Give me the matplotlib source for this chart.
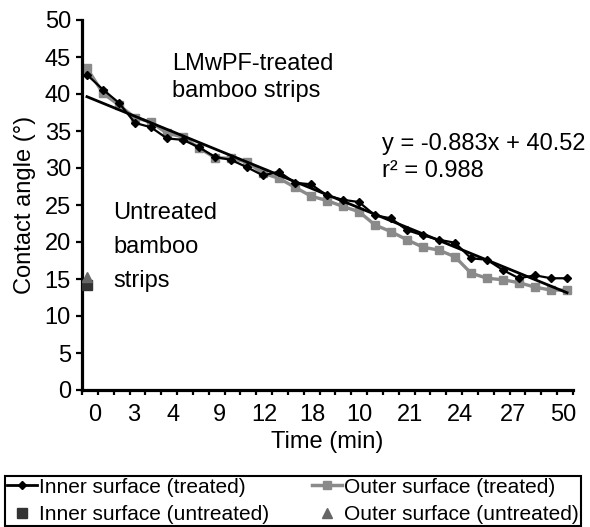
import matplotlib

matplotlib.use("Agg")

import matplotlib.pyplot as plt
import numpy as np
from matplotlib.lines import Line2D

# measurement index (category positions, Excel style 1..31)
points = np.arange(1, 32)

inner_treated = [
    42.6, 40.6, 38.8, 36.1, 35.5, 34.0, 33.8, 32.8, 31.5, 31.1,
    30.1, 29.0, 29.5, 28.0, 27.8, 26.3, 25.7, 25.4, 23.6, 23.2,
    21.6, 20.9, 20.3, 19.9, 17.8, 17.6, 16.2, 15.1, 15.5, 15.1, 15.1,
]
outer_treated = [
    43.5, 40.1, 38.5, 36.8, 36.2, 34.7, 34.2, 32.7, 31.4, 31.3,
    30.8, 29.3, 28.6, 27.4, 26.2, 25.6, 24.8, 24.1, 22.3, 21.4,
    20.3, 19.3, 18.9, 18.0, 15.8, 15.1, 14.9, 14.5, 13.9, 13.5, 13.5,
]
inner_untreated = 14.2
outer_untreated = 15.3

# linear fit printed on the chart
fit_slope = -0.883
fit_intercept = 40.52

# x tick labels as printed (positions between the category marks)
xlabel_pos = [1.5, 3.9, 6.4, 9.25, 12.1, 15.1, 18.0, 21.2, 24.3, 27.6, 30.75]
xlabel_txt = ["0", "3", "4", "9", "12", "18", "10", "21", "24", "27", "50"]

GREY = "#8a8a8a"
FONT = "Liberation Sans"

plt.rcParams.update({"font.family": FONT, "font.size": 17})

fig = plt.figure(figsize=(5.9, 5.27), dpi=100)
ax = fig.add_axes([82 / 590, 1 - 390 / 527, (573 - 82) / 590, (390 - 20) / 527])

ax.plot(points, outer_treated, color=GREY, linewidth=2.4, marker="s",
        markersize=6, markeredgecolor=GREY, zorder=2)
ax.plot(points, inner_treated, color="black", linewidth=1.6, marker="D",
        markersize=4.5, zorder=3)
fit_x = np.array([points[0], points[-1]])
ax.plot(fit_x, fit_slope * fit_x + fit_intercept, color="black", linewidth=2.0, zorder=4)

ax.plot([points[0]], [inner_untreated], linestyle="none", marker="s", markersize=7,
        color="#333333", zorder=5)
ax.plot([points[0]], [outer_untreated], linestyle="none", marker="^", markersize=7,
        color="#666666", zorder=5)

x0, x1 = 0.69, 31.375
ax.set_xlim(x0, x1)
ax.set_ylim(0, 50)

ax.set_yticks(np.arange(0, 51, 5))
ax.set_xticks(xlabel_pos)
ax.set_xticklabels(xlabel_txt)
ax.set_xticks(np.linspace(x0, x1, 32), minor=True)
ax.tick_params(axis="x", which="major", length=0, pad=10, labelsize=17)
ax.tick_params(axis="x", which="minor", direction="out", length=3.5, width=1.6)
ax.tick_params(axis="y", direction="out", length=4, width=1.6, pad=4, labelsize=17)

for side in ("top", "right"):
    ax.spines[side].set_visible(False)
for side in ("left", "bottom"):
    ax.spines[side].set_linewidth(2.3)

ax.set_xlabel("Time (min)", fontsize=17, labelpad=4)
ax.set_ylabel("Contact angle (°)", fontsize=17, labelpad=6)

ax.text(6.31, 39.6, "LMwPF-treated\nbamboo strips", fontsize=17,
        ha="left", va="baseline", linespacing=1.3)
ax.text(19.44, 28.8, "y = -0.883x + 40.52\nr² = 0.988", fontsize=17,
        ha="left", va="baseline", linespacing=1.3)
ax.text(2.63, 13.9, "Untreated\nbamboo\nstrips", fontsize=17,
        ha="left", va="baseline", linespacing=1.7)

handles = [
    Line2D([], [], color="black", linewidth=2, marker="D", markersize=4.5),
    Line2D([], [], linestyle="none", marker="s", markersize=7, color="#333333"),
    Line2D([], [], color=GREY, linewidth=2.5, marker="s", markersize=6),
    Line2D([], [], linestyle="none", marker="^", markersize=7, color="#666666"),
]
labels = [
    "Inner surface (treated)",
    "Inner surface (untreated)",
    "Outer surface (treated)",
    "Outer surface (untreated)",
]
top = 1 - 475.6 / 527
leg = fig.legend(handles, labels, ncol=2, loc="upper left",
                 bbox_to_anchor=(4.5 / 590, top - 0.2, (581 - 4.5) / 590, 0.2),
                 mode="expand", fontsize=15, frameon=True, fancybox=False,
                 edgecolor="black", framealpha=1, handlelength=1.45,
                 handletextpad=0.1, labelspacing=0.4, borderpad=0.1,
                 borderaxespad=0)
leg.get_frame().set_linewidth(1.5)

fig.savefig("out.png", dpi=100)
